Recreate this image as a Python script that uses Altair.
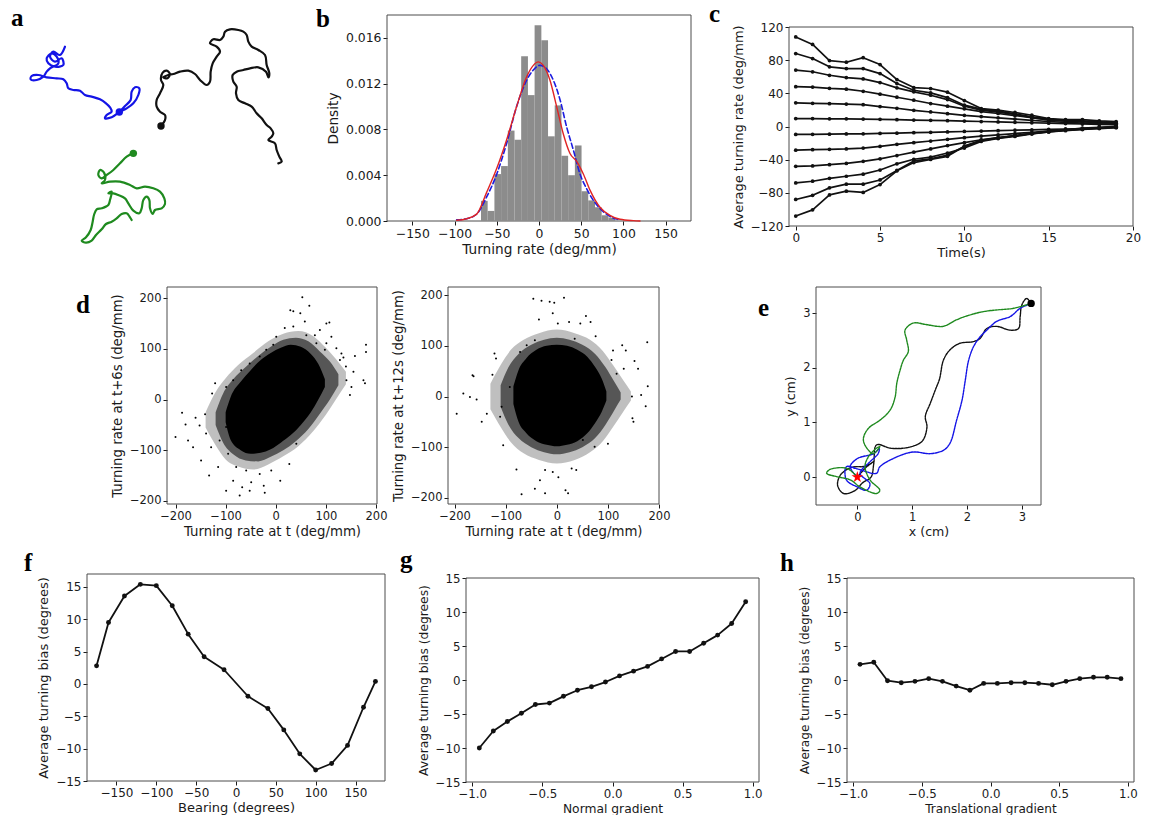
import altair as alt
import pandas as pd

W, H = 1151, 815
FONT = "DejaVu Sans"
SERIF = "Liberation Serif"
INK = "#1a1a1a"
FRAME = "#4d4d4d"
STAR = "M0,-1L0.2245,-0.309L0.951,-0.309L0.363,0.118L0.588,0.809L0,0.382L-0.588,0.809L-0.363,0.118L-0.951,-0.309L-0.2245,-0.309Z"

# ---------------- panel a : example trajectories (arbitrary units) ----------------
a_blue_x = [19.5,18.0,16.0,15.0,16.5,18.5,19.0,16.5,14.5,14.0,15.5,17.0,17.5,15.0,14.0,13.0,11.0,9.2,9.5,11.5,14.0,17.0,19.0,20.0,20.5,22.0,24.0,25.5,27.5,30.0,31.8,33.0,33.5,32.0,31.5,33.5,35.8,38.0,40.0,41.5,41.8,40.5,39.5,39.2,37.5,35.8]
a_blue_y = [64.0,61.5,62.5,61.0,59.5,60.5,58.5,58.0,59.0,60.5,62.0,61.0,59.0,57.5,56.5,55.0,54.0,54.2,55.2,55.5,54.8,54.5,54.2,53.0,51.5,51.0,50.8,49.5,49.0,48.2,47.0,45.8,44.5,43.5,42.5,42.8,44.4,45.5,47.0,49.5,51.5,51.8,50.5,48.0,46.2,44.4]
a_black_x = [48.3,49.5,49.5,48.0,47.0,47.0,48.0,49.0,48.3,48.8,50.0,51.0,50.2,49.0,50.5,52.0,54.0,56.5,58.5,60.0,62.0,63.0,63.2,63.8,65.0,66.0,65.0,63.0,64.0,66.0,67.0,67.5,69.0,71.5,73.0,74.0,74.5,75.5,77.5,79.5,80.0,80.8,80.5,79.8,77.5,75.0,73.0,71.0,69.8,70.0,71.0,70.8,71.5,73.5,75.5,77.0,78.5,80.0,81.2,82.0,81.5,80.5,82.5,83.0,83.8,84.5,83.5]
a_black_y = [40.2,42.0,43.5,44.5,46.0,48.0,50.0,52.5,54.0,56.2,56.8,55.8,54.5,54.8,55.5,55.8,56.5,56.8,55.8,54.0,52.5,53.5,56.5,59.0,61.0,62.5,64.0,65.0,66.2,66.0,67.0,68.5,69.2,69.0,68.5,67.5,65.5,64.0,63.0,61.5,58.5,56.0,54.8,56.5,57.8,57.5,57.0,56.5,55.5,53.5,52.0,50.0,48.0,47.0,46.0,44.0,42.5,40.5,39.5,38.0,37.0,36.0,35.0,33.0,31.0,29.5,29.0]
a_green_x = [40.0,38.0,36.0,34.0,32.0,30.5,29.5,30.0,31.2,31.5,30.5,33.0,36.0,39.0,41.0,43.5,46.0,48.0,49.3,49.5,48.5,46.5,45.8,45.0,44.8,44.0,43.0,42.5,41.8,40.0,38.5,37.5,35.5,34.0,32.5,33.5,33.0,32.5,30.5,29.0,28.2,27.8,27.2,25.8,24.5,25.8,27.5,28.8,30.5,31.8,33.5,35.0,36.5,38.0,39.0,39.5]
a_green_y = [32.0,31.0,29.0,27.0,25.5,24.5,25.5,27.0,26.2,24.0,23.0,23.5,23.5,22.5,21.5,22.0,21.5,20.5,18.5,16.8,15.5,15.0,13.8,15.5,18.0,19.0,18.0,15.5,14.0,14.8,17.0,18.5,19.5,20.0,20.0,20.5,18.0,16.5,15.5,15.2,13.5,11.5,9.0,6.8,5.8,5.2,5.8,7.5,9.2,10.8,11.5,12.5,13.8,14.0,12.8,12.0]
a_dot_x = [35.8, 48.3, 40.0]
a_dot_y = [44.4, 40.2, 32.0]
a_dot_c = ["blue", "black", "green"]

# ---------------- panel b : histogram of turning rate ----------------
b_edges = [-68.7,-60.8,-52.8,-44.9,-36.9,-29.0,-21.1,-13.1,-5.2,2.8,10.7,18.6,26.6,34.5,42.5,50.4,58.3,66.3,74.2,82.2,90.1]
b_dens = [0.00176,0.00088,0.0041,0.0048,0.0079,0.0071,0.0144,0.0110,0.0171,0.0158,0.0074,0.0101,0.0057,0.0040,0.0066,0.0026,0.0018,0.0012,0.0005,0.0003]
b_red_x = [-97.5,-85.7,-73.8,-62.0,-50.0,-38.3,-26.5,-14.6,-6.7,-0.8,5.1,13.0,20.9,28.8,36.7,44.6,52.5,60.4,72.2,84.0,96.0,111.7,119.6]
b_red_y = [0.00006,0.0002,0.0006,0.0025,0.0046,0.0071,0.0100,0.0126,0.0136,0.0139,0.0136,0.0123,0.0100,0.0076,0.0059,0.0052,0.0041,0.0027,0.0012,0.0005,0.00015,0.00003,0.0]
b_blue_x = [-97.5,-85.7,-73.8,-62.0,-50.0,-38.3,-26.5,-14.6,-6.7,1.2,9.0,17.0,24.9,32.8,40.7,48.6,56.5,64.4,72.2,84.0,96.0]
b_blue_y = [0.0001,0.0002,0.0006,0.0021,0.0041,0.0068,0.0100,0.0123,0.0132,0.0136,0.0133,0.0123,0.0106,0.0082,0.0062,0.0041,0.0028,0.0018,0.0011,0.0004,0.0001]

# ---------------- panel c : average turning rate vs time ----------------
c_time = [0,1,2,3,4,5,6,7,8,9,10,11,12,13,14,15,16,17,18,19]
c_lines = [
    [108, 99, 79.5, 77.5, 83, 74.7, 56.6, 47, 45.8, 41.4, 31.3, 21.7, 19.7, 16.9, 13.6, 9.6, 8.4, 8.4, 6.8, 6.0],
    [88, 82, 72, 69.8, 69.8, 63.8, 51.8, 43.7, 40.5, 34.9, 25.7, 20.9, 18.5, 15.3, 11.6, 8.8, 7.2, 6.8, 5.6, 4.4],
    [68, 66, 61.8, 59, 57.4, 53, 46.6, 41.8, 37.7, 32.5, 24.5, 19.7, 17.3, 14.5, 10.8, 8.0, 6.8, 6.0, 4.8, 4.0],
    [48, 47.5, 46, 45, 42.5, 39, 35.3, 31.7, 27.7, 24.5, 21.3, 18, 15.7, 13.2, 10.8, 8, 6.8, 5.6, 4.8, 3.6],
    [28.5, 28, 27.5, 27, 26.3, 24, 22, 19.5, 17.5, 15.5, 13.5, 12, 10.5, 9, 7.5, 6, 5, 4, 3.2, 2.6],
    [9.6, 9.5, 9.3, 9.2, 9.0, 8.6, 8.2, 7.8, 7.4, 7.0, 6.5, 6.0, 5.5, 5.0, 4.5, 4.0, 3.5, 3.0, 2.5, 2.2],
    [-9.6, -9.4, -9.2, -9.0, -8.8, -8.4, -8.0, -7.5, -7.0, -6.5, -6.0, -5.5, -5.0, -4.5, -4.0, -3.5, -3.0, -2.5, -1.5, -1.0],
    [-28.5, -28, -27.5, -27, -26, -24, -21.5, -19.5, -17.5, -15.5, -13.5, -11.5, -10, -8.5, -7, -5.5, -4.5, -3.5, -2.5, -1.5],
    [-48, -47.5, -46, -44.5, -42, -39, -35, -31, -27, -23, -19.5, -16, -13.5, -11, -8.5, -6.5, -5, -3.5, -2, -1],
    [-68, -66, -62.5, -60, -57.5, -52.5, -45, -39.5, -37, -32, -26, -18, -14.5, -12, -9, -6.5, -4.5, -3, -1.5, -0.5],
    [-88, -83, -74, -69.5, -69.5, -64.5, -53, -41.5, -39, -34.5, -24, -17, -14, -11, -8.5, -6, -4, -2.5, -1.5, 0],
    [-108, -100.5, -82.5, -78, -79.5, -70, -53.5, -43.5, -39.7, -36, -23.7, -16.5, -13.6, -11.2, -8.4, -5.6, -4, -2, -1, 0],
]

# ---------------- panel d : turning rate autocorrelation scatter ----------------
# density envelopes (x, lower, upper): solid core, dense ring, sparse halo; plus outlying points
d1_core_x = [-100,-90,-70,-50,-30,-10,10,30,50,70,85,98]
d1_core_lo = [-45,-80,-100,-107,-105,-98,-85,-70,-50,-25,0,25]
d1_core_hi = [-25,5,35,58,78,92,102,108,104,90,70,40]
d1_mid_x = [-120,-105,-85,-60,-35,-10,15,40,65,88,108,125]
d1_mid_lo = [-50,-85,-108,-120,-122,-113,-100,-82,-58,-28,0,28]
d1_mid_hi = [-25,12,40,64,86,104,118,122,115,95,75,50]
d1_fr_x = [-140,-120,-100,-75,-45,-15,15,45,75,100,120,140]
d1_fr_lo = [-55,-90,-118,-132,-138,-128,-112,-92,-62,-30,0,30]
d1_fr_hi = [-25,15,42,68,92,115,130,135,125,102,80,55]
d1_pts_x = [53,67,49,29,35,58,101,107,180,180,158,140,155,135,141,175,151,128,148,178,-187,-180,-160,-141,-121,-127,-200,-175,-165,-149,-133,-115,-99,-85,-72,-67,-52,-49,-22,-24,-32,-59,-79,27,41,9,-9,-112,-139,-152,-99,-129,-95,111,88,78,61,81,101,121,131,98,35,18,1,-5,-19,-32,-52,-69,-85,-99]
d1_pts_y = [202,185,170,176,174,154,150,152,108,94,86,65,55,83,38,38,25,78,9,32,-26,-49,-36,-29,32,12,-74,-81,-94,-120,-150,-133,-180,-160,-189,-173,-180,-163,-184,-170,-147,-140,-133,-127,-87,-160,-140,-81,-67,-51,-54,-94,-107,124,137,127,127,111,111,101,91,98,144,141,124,108,98,85,71,58,38,25]

d2_core_x = [-85,-75,-60,-40,-20,0,20,40,60,75,88,97]
d2_core_lo = [-15,-50,-72,-88,-95,-98,-95,-88,-72,-52,-30,-8]
d2_core_hi = [20,52,75,92,100,102,100,92,78,58,35,10]
d2_mid_x = [-110,-95,-75,-50,-25,0,25,50,75,95,112,125]
d2_mid_lo = [-20,-55,-82,-100,-110,-114,-110,-100,-82,-56,-28,-6]
d2_mid_hi = [22,57,84,102,112,116,112,102,84,58,30,8]
d2_fr_x = [-130,-110,-90,-65,-35,0,35,65,90,110,130,145]
d2_fr_lo = [-25,-60,-90,-112,-125,-132,-125,-110,-88,-60,-30,-8]
d2_fr_hi = [25,62,92,112,125,132,125,112,90,62,32,10]
d2_pts_x = [-46,-30,-14,14,-5,-8,-35,2,24,57,46,66,76,128,135,177,152,159,131,117,147,165,178,174,148,150,100,74,51,38,29,3,-8,-23,-33,-43,-23,17,22,-69,-79,-105,-122,-119,-126,-165,-163,-196,-183,-170,-157,-147,-137,-111,-108,-92,-72,-59,-43,35,107,110]
d2_pts_y = [193,189,187,195,185,164,152,144,147,159,144,147,119,101,91,107,70,55,55,45,0,3,20,-19,-43,-50,-93,-99,-86,-145,-142,-159,-149,-145,-165,-182,-191,-185,-191,-193,-144,-96,85,75,43,42,40,-34,6,-1,-6,-50,-34,-40,-20,19,88,101,111,114,72,91]

# ---------------- panel e : simulated paths to source (cm) ----------------
e_green_x = [0,-0.19,-0.50,-0.56,-0.38,-0.13,0.05,0.35,0.41,0.23,0.14,0.20,0.35,0.41,0.29,0.16,0.11,0.14,0.23,0.41,0.60,0.69,0.72,0.78,0.84,0.93,0.90,0.87,1.02,1.27,1.57,1.81,2.06,2.30,2.54,2.85,3.17]
e_green_y = [0,0.16,0.14,0.07,0.01,-0.05,-0.18,-0.30,-0.24,-0.05,0.19,0.37,0.53,0.56,0.43,0.55,0.68,0.80,0.92,1.04,1.23,1.47,1.72,1.96,2.14,2.30,2.51,2.69,2.82,2.79,2.76,2.88,2.97,3.03,3.06,3.09,3.18]
e_black_x = [0,0.17,0.29,0.15,-0.10,-0.30,-0.36,-0.25,-0.05,0.10,0.25,0.30,0.35,0.60,0.84,1.08,1.20,1.27,1.24,1.33,1.42,1.50,1.57,1.69,1.87,2.12,2.24,2.36,2.54,2.79,2.94,2.97,3.00,3.09,3.17]
e_black_y = [0,0.19,0.28,0.20,0.18,0.05,-0.15,-0.30,-0.25,-0.10,0.00,0.25,0.59,0.53,0.53,0.59,0.68,0.92,1.11,1.35,1.59,1.80,2.14,2.33,2.45,2.48,2.54,2.72,2.76,2.69,2.72,2.94,3.15,3.27,3.18]
e_blue_x = [0,-0.13,0.00,0.30,0.40,0.38,0.23,0.05,0.23,0.17,0.00,-0.20,-0.20,0.00,0.35,0.41,0.72,1.02,1.33,1.57,1.69,1.81,1.91,1.97,2.03,2.12,2.24,2.36,2.54,2.79,2.97,3.17]
e_blue_y = [0,0.19,0.34,0.43,0.52,0.43,0.28,0.07,-0.12,-0.24,-0.18,-0.05,0.19,0.15,0.07,0.19,0.37,0.46,0.43,0.49,0.62,1.04,1.41,1.78,2.14,2.39,2.57,2.69,2.85,2.94,3.09,3.18]
e_start_x, e_start_y = [3.17], [3.18]
e_source_x, e_source_y = [0.0], [0.0]

# ---------------- panels f, g, h : average turning bias ----------------
f_x = [-175,-160,-140,-120,-100,-80,-60,-40,-15,15,40,60,80,100,120,140,160,175]
f_y = [2.8,9.5,13.6,15.4,15.2,12.1,7.7,4.2,2.2,-1.9,-3.8,-7.1,-10.8,-13.3,-12.3,-9.5,-3.6,0.4]
gh_x = [-0.95,-0.85,-0.75,-0.65,-0.55,-0.45,-0.35,-0.25,-0.15,-0.05,0.05,0.15,0.25,0.35,0.45,0.55,0.65,0.75,0.85,0.95]
g_y = [-10.0,-7.5,-6.1,-4.9,-3.6,-3.4,-2.4,-1.5,-1.0,-0.3,0.6,1.3,2.0,3.1,4.2,4.2,5.4,6.6,8.3,11.5]
h_y = [2.3,2.6,-0.1,-0.4,-0.2,0.2,-0.2,-0.9,-1.5,-0.5,-0.5,-0.4,-0.4,-0.5,-0.7,-0.2,0.2,0.4,0.4,0.2]


# ---------------- helpers ----------------
def lin(domain, rng):
    return alt.Scale(domain=domain, range=rng, nice=False, zero=False)


def ax_x(bottom, values, title, fmt=None, ls=11.5, ts=12.5):
    kw = dict(orient="bottom", offset=bottom - H, values=values, title=title, grid=False,
              domain=False, tickSize=4, tickColor=INK, tickWidth=1, labelFont=FONT,
              labelFontSize=ls, labelColor=INK, labelPadding=2, labelFlush=False,
              labelOverlap=False, titleFont=FONT, titleFontSize=ts, titleFontWeight="normal",
              titleColor=INK, titlePadding=3)
    if fmt:
        kw["format"] = fmt
    return alt.Axis(**kw)


def ax_y(left, values, title, fmt=None, ls=11.5, ts=12.5):
    kw = dict(orient="left", offset=-left, values=values, title=title, grid=False,
              domain=False, tickSize=4, tickColor=INK, tickWidth=1, labelFont=FONT,
              labelFontSize=ls, labelColor=INK, labelPadding=2, labelFlush=False,
              labelOverlap=False, titleFont=FONT, titleFontSize=ts, titleFontWeight="normal",
              titleColor=INK, titlePadding=5)
    if fmt:
        kw["format"] = fmt
    return alt.Axis(**kw)


class Panel:
    """Shared scales and axes for all the layers of one panel."""
    def __init__(self, dx, dy, xr, yr, xa=None, ya=None):
        self.dx, self.dy = dx, dy
        self.xs, self.ys = lin(dx, xr), lin(dy, yr)
        self.xa, self.ya = xa, ya

    def X(self, f):
        return alt.X(f, scale=self.xs, axis=self.xa)

    def Y(self, f):
        return alt.Y(f, scale=self.ys, axis=self.ya)

    def frame(self):
        df = pd.DataFrame({"x0": [self.dx[0]], "x1": [self.dx[1]], "y0": [self.dy[0]], "y1": [self.dy[1]]})
        return alt.Chart(df).mark_rect(fillOpacity=0, stroke=FRAME, strokeWidth=1).encode(
            x=self.X("x0:Q"), x2="x1:Q", y=self.Y("y0:Q"), y2="y1:Q")

    def path(self, df, color, width, interp="linear", dash=None):
        kw = dict(color=color, strokeWidth=width, interpolate=interp, strokeCap="round", strokeJoin="round")
        if dash:
            kw["strokeDash"] = dash
        return alt.Chart(df).mark_line(**kw).encode(
            x=self.X("x:Q"), y=self.Y("y:Q"), order=alt.Order("i:Q"))

    def dots(self, df, color, size):
        return alt.Chart(df).mark_circle(color=color, size=size, opacity=1).encode(
            x=self.X("x:Q"), y=self.Y("y:Q"))

    def band(self, df, opacity):
        return alt.Chart(df).mark_area(color="black", opacity=opacity, interpolate="monotone").encode(
            x=self.X("x:Q"), y=self.Y("lo:Q"), y2="hi:Q")


def path_df(xs_, ys_):
    return pd.DataFrame({"x": xs_, "y": ys_, "i": list(range(len(xs_)))})


def label(txt, px, py):
    return alt.Chart(pd.DataFrame({"t": [txt]})).mark_text(
        font=SERIF, fontWeight="bold", fontSize=25, align="left", baseline="alphabetic",
        color="black").encode(x=alt.value(px), y=alt.value(py), text="t:N")


# ---------------- panel a ----------------
A = Panel([0, 90], [0, 78], [0, 300], [260, 0])
A_COL = {"blue": "#1414e6", "black": "#111111", "green": "#1f8a1f"}
dots_a = pd.DataFrame({"x": a_dot_x, "y": a_dot_y, "c": a_dot_c})
pa = alt.layer(
    A.path(path_df(a_blue_x, a_blue_y), A_COL["blue"], 2.2, "catmull-rom"),
    A.path(path_df(a_black_x, a_black_y), A_COL["black"], 2.2, "catmull-rom"),
    A.path(path_df(a_green_x, a_green_y), A_COL["green"], 2.2, "catmull-rom"),
    A.dots(dots_a[dots_a.c == "blue"], A_COL["blue"], 55),
    A.dots(dots_a[dots_a.c == "black"], A_COL["black"], 55),
    A.dots(dots_a[dots_a.c == "green"], A_COL["green"], 55),
)

# ---------------- panel b ----------------
B = Panel([-180, 180], [0, 0.018], [387, 691], [221, 15],
          ax_x(221, [-150, -100, -50, 0, 50, 100, 150], "Turning rate (deg/mm)", ls=12.4, ts=13.7),
          ax_y(387, [0, 0.004, 0.008, 0.012, 0.016], "Density", fmt=".3f", ls=12.4, ts=13.7))
b_hist = pd.DataFrame({"l": b_edges[:-1], "r": b_edges[1:], "d": b_dens})
pb = alt.layer(
    B.frame(),
    alt.Chart(b_hist).mark_rect(color="#8c8c8c", opacity=1).encode(
        x=B.X("l:Q"), x2="r:Q", y=B.Y("d:Q"), y2=alt.datum(0)),
    B.path(path_df(b_blue_x, b_blue_y), "#1c1ce0", 1.6, "monotone", [5, 3]),
    B.path(path_df(b_red_x, b_red_y), "#e02424", 1.4, "monotone"),
)

# ---------------- panel c ----------------
C = Panel([-0.4, 20.0], [-120, 120], [789, 1133], [226, 27],
          ax_x(226, [0, 5, 10, 15, 20], "Time(s)", ls=12, ts=13),
          ax_y(789, [-120, -80, -40, 0, 40, 80, 120], "Average turning rate (deg/mm)", ls=12, ts=13))
c_layers = [C.frame()]
for series in c_lines:
    cdf = path_df(c_time, series)
    c_layers.append(C.path(cdf, "#111111", 1.7))
    c_layers.append(C.dots(cdf, "#111111", 14))
pc = alt.layer(*c_layers)


# ---------------- panel d ----------------
def scatter_panel(dx, dy, xr, yr, core, mid, fringe, px_, py_, ytitle):
    P = Panel(dx, dy, xr, yr,
              ax_x(yr[0], [-200, -100, 0, 100, 200], "Turning rate at t (deg/mm)", ls=11.5, ts=13.3),
              ax_y(xr[0], [-200, -100, 0, 100, 200], ytitle, ls=11.5, ts=13.3))

    def env(t):
        return pd.DataFrame({"x": t[0], "lo": t[1], "hi": t[2]})
    return alt.layer(
        P.frame(),
        P.band(env(fringe), 0.25),
        P.band(env(mid), 0.55),
        P.band(env(core), 1.0),
        P.dots(pd.DataFrame({"x": px_, "y": py_}), "black", 4),
    )


pd1 = scatter_panel([-217, 202], [-206, 222], [167, 377], [504, 287],
                    (d1_core_x, d1_core_lo, d1_core_hi), (d1_mid_x, d1_mid_lo, d1_mid_hi),
                    (d1_fr_x, d1_fr_lo, d1_fr_hi), d1_pts_x, d1_pts_y, "Turning rate at t+6s (deg/mm)")
pd2 = scatter_panel([-213, 200], [-212, 216], [448, 659], [504, 287],
                    (d2_core_x, d2_core_lo, d2_core_hi), (d2_mid_x, d2_mid_lo, d2_mid_hi),
                    (d2_fr_x, d2_fr_lo, d2_fr_hi), d2_pts_x, d2_pts_y, "Turning rate at t+12s (deg/mm)")

# ---------------- panel e ----------------
E = Panel([-0.754, 3.35], [-0.51, 3.48], [816, 1041], [505, 287],
          ax_x(505, [0, 1, 2, 3], "x (cm)", ls=11.5, ts=12.6),
          ax_y(816, [0, 1, 2, 3], "y (cm)", ls=11.5, ts=12.6))
pe = alt.layer(
    E.frame(),
    E.path(path_df(e_black_x, e_black_y), "#111111", 1.4, "catmull-rom", [2, 1]),
    E.path(path_df(e_blue_x, e_blue_y), "#1414e6", 1.4, "catmull-rom", [2, 1]),
    E.path(path_df(e_green_x, e_green_y), "#1f8a1f", 1.4, "catmull-rom", [2, 1]),
    E.dots(pd.DataFrame({"x": e_start_x, "y": e_start_y}), "black", 55),
    alt.Chart(pd.DataFrame({"x": e_source_x, "y": e_source_y})).mark_point(
        shape=STAR, filled=True, color="red", size=150, opacity=1).encode(
        x=E.X("x:Q"), y=E.Y("y:Q")),
)


# ---------------- panels f, g, h ----------------
def bias_panel(xv, yv, dx, dy, xr, yr, xvals, xtitle, xfmt=None, ls=11.5, ts=12.5):
    P = Panel(dx, dy, xr, yr,
              ax_x(yr[0], xvals, xtitle, fmt=xfmt, ls=ls, ts=ts),
              ax_y(xr[0], [-15, -10, -5, 0, 5, 10, 15], "Average turning bias (degrees)", ls=ls, ts=ts))
    df = path_df(xv, yv)
    return alt.layer(P.frame(), P.path(df, "#111111", 1.8), P.dots(df, "#111111", 24))


pf = bias_panel(f_x, f_y, [-187, 187], [-15, 17], [87, 385], [781, 574],
                [-150, -100, -50, 0, 50, 100, 150], "Bearing (degrees)", ls=12, ts=13)
pg = bias_panel(gh_x, g_y, [-1.045, 1.045], [-15, 15], [466, 759], [782, 578],
                [-1.0, -0.5, 0.0, 0.5, 1.0], "Normal gradient", ".1f", ls=11.8, ts=12.3)
ph = bias_panel(gh_x, h_y, [-1.045, 1.045], [-15, 15], [847, 1134], [782, 578],
                [-1.0, -0.5, 0.0, 0.5, 1.0], "Translational gradient", ".1f", ls=11.8, ts=12.1)

labels = [label("a", 11, 26), label("b", 316, 27), label("c", 709, 22), label("d", 76, 313),
          label("e", 758, 316), label("f", 24, 571), label("g", 400, 568), label("h", 780, 571)]

chart = alt.layer(*labels, pa, pb, pc, pd1, pd2, pe, pf, pg, ph).resolve_scale(
    x="independent", y="independent"
).properties(
    width=W, height=H, padding=0, autosize=alt.AutoSizeParams(type="none"),
    background="white"
).configure_view(stroke="transparent")

chart.save("out.html", embed_options={"renderer": "svg", "actions": False})
